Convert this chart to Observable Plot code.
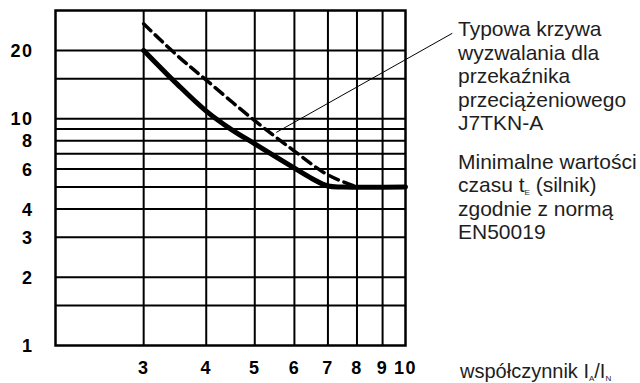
<!DOCTYPE html>
<html>
<head>
<meta charset="utf-8">
<script src="https://cdn.jsdelivr.net/npm/d3@7"></script>
<script src="https://cdn.jsdelivr.net/npm/@observablehq/plot@0.6"></script>
<style>
  html, body { margin: 0; padding: 0; background: #fff; }
  #chart { width: 640px; height: 383px; }
</style>
</head>
<body>
<div id="chart"></div>
<script>
// ---- data ----
const xTicks = [3, 4, 5, 6, 7, 8, 9, 10];
const yTicks = [1, 2, 3, 4, 6, 8, 10, 20];
const xGrid = [3, 4, 5, 6, 7, 8, 9];
const yGrid = [1.5, 2, 3, 4, 5, 6, 7, 8, 9, 10, 15, 20];

// J7TKN-A typical tripping curve (solid)
const relayX = [3, 3.5, 4, 4.5, 5, 5.5, 6, 6.5, 7, 7.5, 10];
const relayY = [20, 14.2, 10.8, 8.93, 7.75, 6.8, 6.05, 5.45, 5.05, 5.0, 5.0];
// EN50019 minimum tE values (dashed)
const normX = [3, 3.5, 4, 5, 6, 7, 8];
const normY = [26.2, 19.0, 14.8, 9.8, 7.2, 5.65, 5.0];
// leader line from the curve to the label
const leaderX = [5.52, 12.4];
const leaderY = [8.7, 23.8];

const labelBlock1 = ["Typowa krzywa", "wyzwalania dla", "przekaźnika", "przeciążeniowego", "J7TKN-A"];
const labelBlock2 = [["Minimalne wartości"], ["czasu t", "E", " (silnik)"], ["zgodnie z normą"], ["EN50019"]];
const xLabelParts = ["współczynnik I", "A", "/I", "N"];

const relay = relayX.map((x, i) => ({x, y: relayY[i]}));
const norm = normX.map((x, i) => ({x, y: normY[i]}));
const leader = [{x1: leaderX[0], y1: leaderY[0], x2: leaderX[1], y2: leaderY[1]}];

const tickFont = {fontSize: 18, fontWeight: "bold", fill: "#000"};

const chart = Plot.plot({
  width: 640,
  height: 383,
  marginLeft: 55,
  marginRight: 235,
  marginTop: 10,
  marginBottom: 38,
  style: {fontFamily: "Liberation Sans, Arial, sans-serif", background: "#fff", color: "#000"},
  x: {type: "log", domain: [2, 10], axis: null},
  y: {type: "log", domain: [1, 30], axis: null},
  marks: [
    Plot.ruleX(xGrid, {stroke: "#000", strokeWidth: 2}),
    Plot.ruleY(yGrid, {stroke: "#000", strokeWidth: 2}),
    Plot.frame({stroke: "#000", strokeWidth: 2.5}),
    Plot.line(norm, {x: "x", y: "y", stroke: "#000", strokeWidth: 3.5, strokeDasharray: "10 6", curve: "catmull-rom"}),
    Plot.line(relay, {x: "x", y: "y", stroke: "#000", strokeWidth: 5, curve: "catmull-rom"}),
    Plot.link(leader, {x1: "x1", y1: "y1", x2: "x2", y2: "y2", stroke: "#000", strokeWidth: 1}),
    Plot.text(xTicks, {x: d => d, frameAnchor: "bottom", dy: 28, text: d => String(d), textAnchor: "middle", ...tickFont}),
    Plot.text(yTicks, {y: d => d, frameAnchor: "left", dx: -22, dy: 1, text: d => String(d), textAnchor: "end", ...tickFont})
  ]
});

document.getElementById("chart").appendChild(chart);
d3.select(chart).selectAll("text").filter(function() { return this.closest("g") && this.getAttribute("font-weight") === "bold"; });
d3.select(chart).selectAll("g[font-weight='bold'] text, text[font-weight='bold']").style("letter-spacing", "1.5px");

// annotations at the right
const svg = d3.select(chart);
const g = svg.append("g")
  .attr("font-family", "Liberation Sans, Arial, sans-serif")
  .attr("font-size", 21)
  .attr("text-anchor", "start")
  .attr("fill", "#1e1e1e");

labelBlock1.forEach((t, i) => {
  g.append("text").attr("x", 458).attr("y", 36 + i * 23.5).text(t);
});
labelBlock2.forEach((parts, i) => {
  const t = g.append("text").attr("x", 458).attr("y", 168.5 + i * 23.5);
  parts.forEach((p, j) => {
    if (parts.length > 1 && j === 1) {
      t.append("tspan").attr("font-size", 8).attr("dy", 3).text(p);
    } else if (parts.length > 1 && j === 2) {
      t.append("tspan").attr("dy", -3).text(p);
    } else {
      t.append("tspan").text(p);
    }
  });
});
const xl = g.append("text").attr("x", 460).attr("y", 378).attr("font-size", 20);
xl.append("tspan").text(xLabelParts[0]);
xl.append("tspan").attr("font-size", 8).attr("dy", 3).text(xLabelParts[1]);
xl.append("tspan").attr("dy", -3).text(xLabelParts[2]);
xl.append("tspan").attr("font-size", 8).attr("dy", 3).text(xLabelParts[3]);
</script>
</body>
</html>
